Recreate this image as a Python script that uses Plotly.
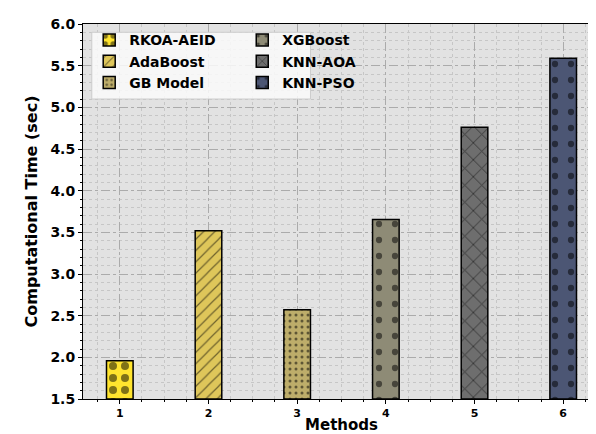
import plotly.graph_objects as go

methods = [1, 2, 3, 4, 5, 6]
names = ["RKOA-AEID", "AdaBoost", "GB Model", "XGBoost", "KNN-AOA", "KNN-PSO"]
times = [1.96, 3.52, 2.57, 3.655, 4.76, 5.59]
colors = ["#FFE42E", "#DEC65A", "#BDAD6A", "#8E8B76", "#6E6E6E", "#4C5674"]
patterns = [".", "/", ".", ".", "x", "."]
psizes = [12, 8, 6, 16, 12, 16]
psolid = [0.35, 0.15, 0.2, 0.12, 0.15, 0.12]
legend_of = ["legend", "legend", "legend", "legend2", "legend2", "legend2"]

base = 1.5
fig = go.Figure()
for i in range(len(methods)):
    fig.add_trace(go.Bar(
        x=[methods[i]], y=[times[i] - base], base=base, name=names[i],
        width=0.3, marker=dict(color=colors[i], line=dict(color="black", width=1.5),
                               pattern=dict(shape=patterns[i], size=psizes[i], solidity=psolid[i],
                                            fgcolor="black")),
        legend=legend_of[i],
    ))

font = "DejaVu Sans"
leg_common = dict(orientation="v", yanchor="top", xanchor="left",
                  bgcolor="rgba(0,0,0,0)", borderwidth=0,
                  font=dict(size=14, family=font, weight="bold"),
                  itemwidth=30, tracegroupgap=0)
fig.update_layout(
    width=596, height=434,
    margin=dict(l=75, r=4, t=16, b=43),
    paper_bgcolor="white", plot_bgcolor="#E2E2E2",
    barmode="overlay",
    font=dict(family=font, color="black"),
    showlegend=True,
    legend=dict(x=0.012, y=0.999, **leg_common),
    legend2=dict(x=0.308, y=0.999, **leg_common),
    shapes=[dict(type="rect", xref="paper", yref="paper", x0=0.017, x1=0.44, y0=0.80, y1=0.978,
                 fillcolor="rgba(250,250,250,0.85)", line=dict(color="#cccccc", width=1),
                 layer="above")],
    xaxis=dict(range=[0.585, 6.415], tickmode="array", tickvals=methods,
               ticktext=[str(m) for m in methods],
               tickfont=dict(size=11, family=font, weight="bold"),
               title=dict(text="Methods", font=dict(size=15, family=font, weight="bold"), standoff=0),
               automargin=False,
               showline=True, mirror=True, linecolor="black", linewidth=1,
               ticks="outside", ticklen=4, tickcolor="black",
               showgrid=True, gridcolor="#ABABAB", griddash="dashdot", gridwidth=1,
               minor=dict(dtick=0.25, tick0=0, ticks="outside", ticklen=2, tickcolor="black",
                          showgrid=True, gridcolor="#C6C6C6", griddash="dot", gridwidth=1),
               zeroline=False),
    yaxis=dict(range=[1.5, 6.0], dtick=0.5, tick0=1.5, tickformat=".1f",
               tickfont=dict(size=14, family=font, weight="bold"),
               title=dict(text="Computational Time (sec)", font=dict(size=16, family=font, weight="bold"), standoff=8),
               automargin=False,
               showline=True, mirror=True, linecolor="black", linewidth=1,
               ticks="outside", ticklen=4, tickcolor="black",
               showgrid=True, gridcolor="#ABABAB", griddash="dashdot", gridwidth=1,
               minor=dict(dtick=0.1, ticks="outside", ticklen=2, tickcolor="black",
                          showgrid=True, gridcolor="#C6C6C6", griddash="dot", gridwidth=1),
               zeroline=False),
)
fig.write_html("out.html")
